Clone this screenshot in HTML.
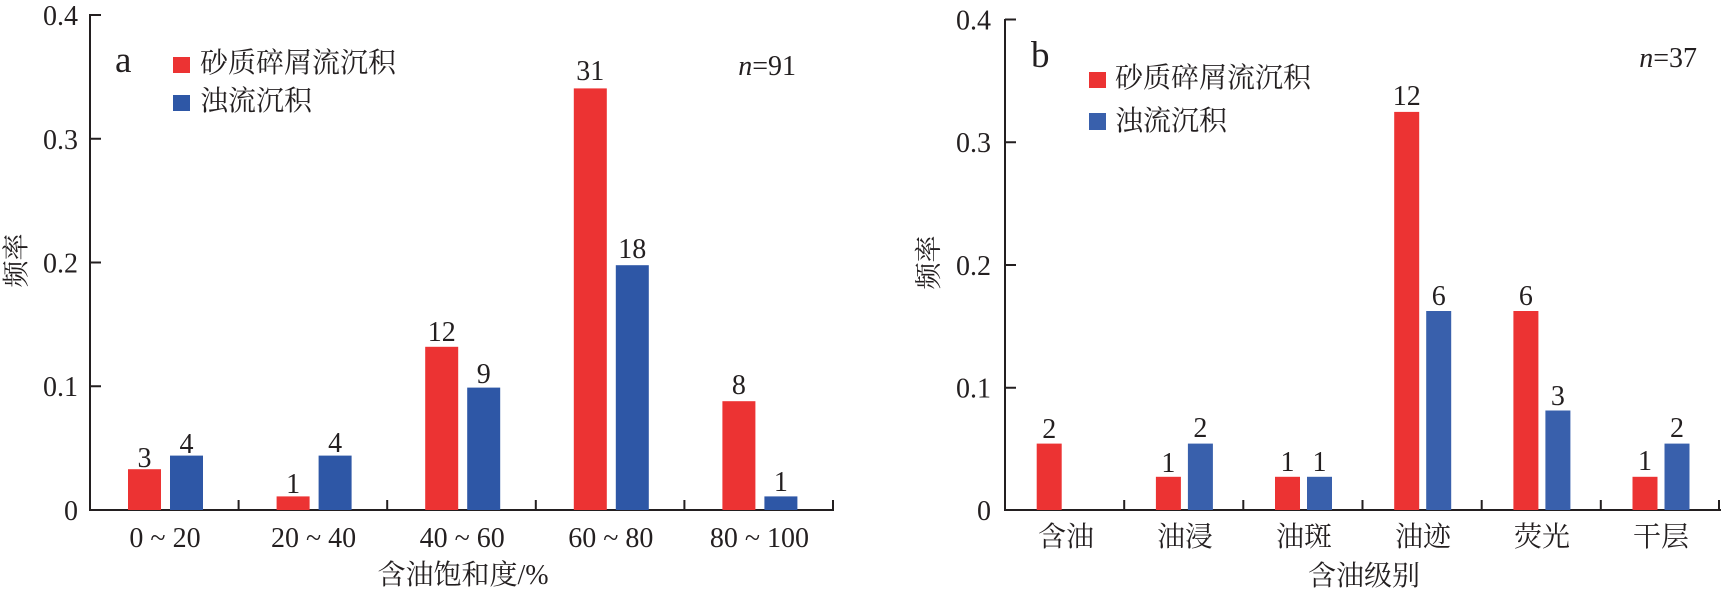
<!DOCTYPE html>
<html>
<head>
<meta charset="utf-8">
<style>
  html, body { margin:0; padding:0; background:#ffffff; }
  svg { display:block; }
  text { font-family: "Liberation Serif", "Noto Serif CJK SC", serif; fill:#231f20; }
</style>
</head>
<body>
<svg width="1721" height="595" viewBox="0 0 1721 595" xmlns="http://www.w3.org/2000/svg">
  <!-- ================= LEFT CHART (a) ================= -->
  <g stroke="#231f20" stroke-width="2" fill="none">
    <line x1="90" y1="14" x2="90" y2="511"/>
    <line x1="89" y1="510" x2="834" y2="510"/>
    <line x1="90" y1="15" x2="101" y2="15"/>
    <line x1="90" y1="138.75" x2="101" y2="138.75"/>
    <line x1="90" y1="262.5" x2="101" y2="262.5"/>
    <line x1="90" y1="386.25" x2="101" y2="386.25"/>
    <line x1="238.6" y1="500" x2="238.6" y2="510"/>
    <line x1="387.2" y1="500" x2="387.2" y2="510"/>
    <line x1="535.8" y1="500" x2="535.8" y2="510"/>
    <line x1="684.4" y1="500" x2="684.4" y2="510"/>
    <line x1="833" y1="500" x2="833" y2="510"/>
  </g>
  <g font-size="28" text-anchor="end">
    <text x="78" y="25">0.4</text>
    <text x="78" y="149">0.3</text>
    <text x="78" y="272.5">0.2</text>
    <text x="78" y="396">0.1</text>
    <text x="78" y="520">0</text>
  </g>
  <g fill="#ec3333">
    <rect x="128" y="469.2" width="33" height="40.8"/>
    <rect x="276.6" y="496.4" width="33" height="13.6"/>
    <rect x="425.2" y="346.8" width="33" height="163.2"/>
    <rect x="573.8" y="88.4" width="33" height="421.6"/>
    <rect x="722.4" y="401.2" width="33" height="108.8"/>
  </g>
  <g fill="#2e57a6">
    <rect x="170" y="455.6" width="33" height="54.4"/>
    <rect x="318.6" y="455.6" width="33" height="54.4"/>
    <rect x="467.2" y="387.6" width="33" height="122.4"/>
    <rect x="615.8" y="265.2" width="33" height="244.8"/>
    <rect x="764.4" y="496.4" width="33" height="13.6"/>
  </g>
  <g font-size="28" text-anchor="middle">
    <text x="144.5" y="467">3</text>
    <text x="186.5" y="453">4</text>
    <text x="293.1" y="493">1</text>
    <text x="335.1" y="452">4</text>
    <text x="441.7" y="341">12</text>
    <text x="483.7" y="383">9</text>
    <text x="590.3" y="80">31</text>
    <text x="632.3" y="258">18</text>
    <text x="738.9" y="394">8</text>
    <text x="780.9" y="491">1</text>
  </g>
  <g font-size="28" text-anchor="middle">
    <text x="165" y="547">0 ~ 20</text>
    <text x="313.6" y="547">20 ~ 40</text>
    <text x="462.2" y="547">40 ~ 60</text>
    <text x="610.8" y="547">60 ~ 80</text>
    <text x="759.4" y="547">80 ~ 100</text>
  </g>
  <text x="463" y="584" font-size="28" text-anchor="middle">含油饱和度/%</text>
  <text x="0" y="0" font-size="27" text-anchor="middle" dominant-baseline="central" transform="translate(16.5,260.5) rotate(-90)">频率</text>
  <text x="115" y="72" font-size="37">a</text>
  <rect x="173" y="57" width="17" height="16" fill="#ec3333"/>
  <text x="200" y="72" font-size="28">砂质碎屑流沉积</text>
  <rect x="173" y="95" width="17" height="16" fill="#2e57a6"/>
  <text x="200" y="110" font-size="28">浊流沉积</text>
  <text x="796" y="75" font-size="28" text-anchor="end"><tspan font-style="italic">n</tspan>=91</text>

  <!-- ================= RIGHT CHART (b) ================= -->
  <g stroke="#231f20" stroke-width="2" fill="none">
    <line x1="1005" y1="19" x2="1005" y2="511"/>
    <line x1="1004" y1="510" x2="1721" y2="510"/>
    <line x1="1005" y1="19.5" x2="1016" y2="19.5"/>
    <line x1="1005" y1="142.25" x2="1016" y2="142.25"/>
    <line x1="1005" y1="265" x2="1016" y2="265"/>
    <line x1="1005" y1="387.75" x2="1016" y2="387.75"/>
    <line x1="1124.2" y1="500" x2="1124.2" y2="510"/>
    <line x1="1243.3" y1="500" x2="1243.3" y2="510"/>
    <line x1="1362.5" y1="500" x2="1362.5" y2="510"/>
    <line x1="1481.7" y1="500" x2="1481.7" y2="510"/>
    <line x1="1600.8" y1="500" x2="1600.8" y2="510"/>
    <line x1="1719" y1="500" x2="1719" y2="510"/>
  </g>
  <g font-size="28" text-anchor="end">
    <text x="991" y="29.5">0.4</text>
    <text x="991" y="152">0.3</text>
    <text x="991" y="275">0.2</text>
    <text x="991" y="397.5">0.1</text>
    <text x="991" y="520">0</text>
  </g>
  <g fill="#ec3333">
    <rect x="1036.7" y="443.6" width="25" height="66.4"/>
    <rect x="1155.9" y="476.8" width="25" height="33.2"/>
    <rect x="1275" y="476.8" width="25" height="33.2"/>
    <rect x="1394.2" y="111.9" width="25" height="398.1"/>
    <rect x="1513.4" y="311" width="25" height="199"/>
    <rect x="1632.5" y="476.8" width="25" height="33.2"/>
  </g>
  <g fill="#3960ac">
    <rect x="1187.9" y="443.6" width="25" height="66.4"/>
    <rect x="1307" y="476.8" width="25" height="33.2"/>
    <rect x="1426.2" y="311" width="25" height="199"/>
    <rect x="1545.4" y="410.5" width="25" height="99.5"/>
    <rect x="1664.5" y="443.6" width="25" height="66.4"/>
  </g>
  <g font-size="28" text-anchor="middle">
    <text x="1049.2" y="438">2</text>
    <text x="1168.4" y="472">1</text>
    <text x="1200.4" y="437">2</text>
    <text x="1287.5" y="471">1</text>
    <text x="1319.5" y="471">1</text>
    <text x="1406.7" y="105">12</text>
    <text x="1438.7" y="305">6</text>
    <text x="1525.9" y="305">6</text>
    <text x="1557.9" y="405">3</text>
    <text x="1645" y="470">1</text>
    <text x="1677" y="437">2</text>
  </g>
  <g font-size="28" text-anchor="middle">
    <text x="1066" y="546">含油</text>
    <text x="1185" y="546">油浸</text>
    <text x="1304" y="546">油斑</text>
    <text x="1423" y="546">油迹</text>
    <text x="1542" y="546">荧光</text>
    <text x="1661" y="546">干层</text>
  </g>
  <text x="1364" y="585" font-size="28" text-anchor="middle">含油级别</text>
  <text x="0" y="0" font-size="27" text-anchor="middle" dominant-baseline="central" transform="translate(929,262.5) rotate(-90)">频率</text>
  <text x="1031" y="67" font-size="37">b</text>
  <rect x="1089" y="72" width="17" height="16" fill="#ec3333"/>
  <text x="1115" y="87" font-size="28">砂质碎屑流沉积</text>
  <rect x="1089" y="113" width="17" height="17" fill="#3960ac"/>
  <text x="1115" y="130" font-size="28">浊流沉积</text>
  <text x="1697" y="67" font-size="28" text-anchor="end"><tspan font-style="italic">n</tspan>=37</text>
</svg>
</body>
</html>
